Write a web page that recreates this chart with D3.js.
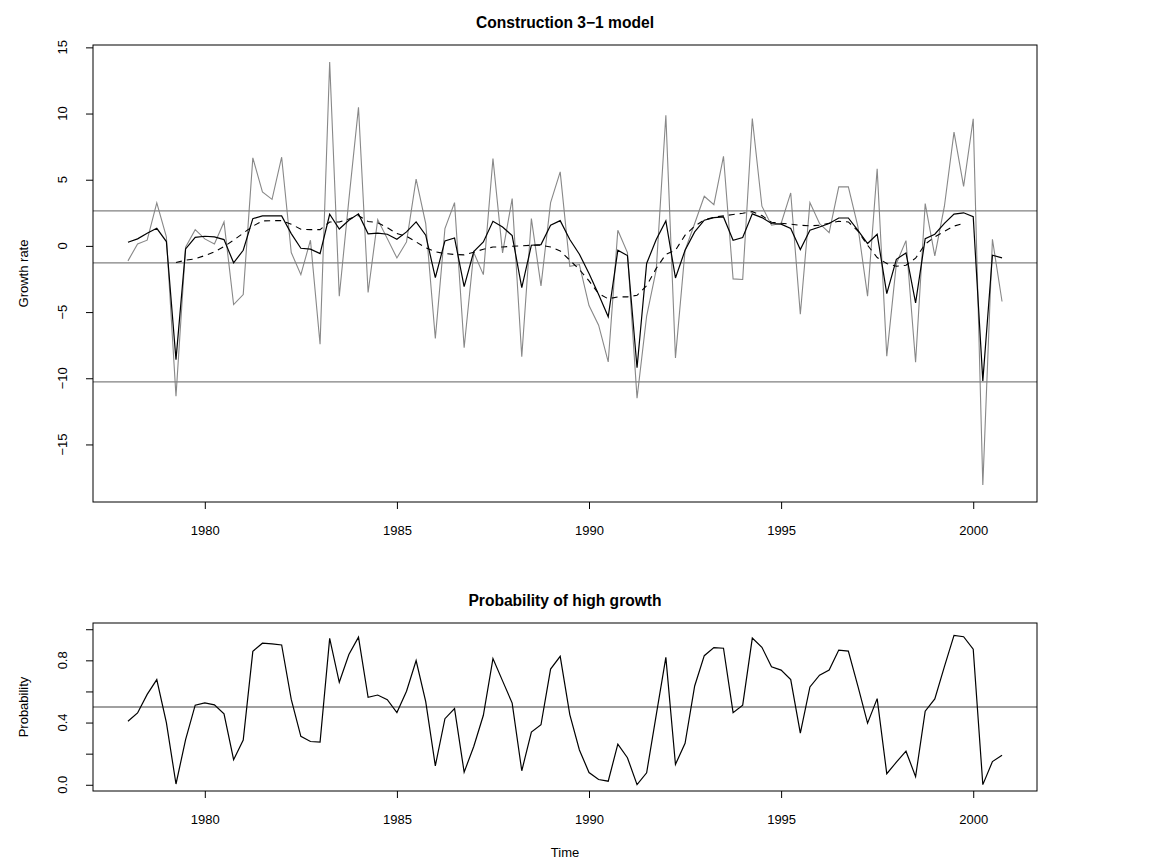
<!DOCTYPE html>
<html><head><meta charset="utf-8">
<script src="https://cdn.jsdelivr.net/npm/d3@7"></script>
<style>
body{margin:0;background:#fff}
text{font-family:"Liberation Sans",Arial,Helvetica,sans-serif;fill:#000}
</style>
</head><body>
<svg id="chart" width="1150" height="868"></svg>
<script>
// ---------------- data ----------------
const startYear = 1978;
const periodsPerYear = 4;

// observed growth rate (grey line)
const actual = [
 -1.13, 0.15, 0.43, 3.25, 0.68, -11.35, -0.1, 1.23, 0.53, 0.15,
 1.81, -4.43, -3.68, 6.65, 4.08, 3.52, 6.70, -0.5, -2.17, 0.43,
 -7.43, 13.9, -3.8, 3.5, 10.47, -3.52, 1.99, 0.55, -0.91, 0.30,
 5.04, 1.69, -7.0, 1.31, 3.27, -7.70, -0.50, -2.17, 6.60, -0.53,
 3.57, -8.38, 2.06, -3.02, 3.27, 5.59, -1.54, -1.41, -4.51, -5.99,
 -8.76, 1.18, -0.5, -11.5, -5.3, -1.8, 9.87, -8.46, -0.33, 1.69,
 3.75, 3.12, 6.77, -2.49, -2.54, 9.62, 3.0, 1.56, 1.69, 4.0,
 -5.16, 3.27, 1.69, 1.0, 4.46, 4.46, 1.43, -3.8, 5.82, -8.33,
 -1.33, 0.40, -8.79, 3.20, -0.76, 3.0, 8.6, 4.5, 9.6, -18.07,
 0.5, -4.2
];

// fitted values (solid black line)
const fitted = [
 0.28, 0.53, 0.96, 1.33, 0.33, -8.59, -0.23, 0.65, 0.73, 0.68,
 0.48, -1.28, -0.33, 2.06, 2.27, 2.27, 2.27, 0.93, -0.18, -0.25,
 -0.58, 2.39, 1.28, 1.94, 2.42, 0.91, 0.97, 0.88, 0.50, 1.06,
 1.81, 0.81, -2.39, 0.38, 0.60, -3.07, -0.43, 0.30, 1.86, 1.43,
 0.78, -3.15, 0.05, 0.10, 1.56, 1.91, 0.48, -0.63, -2.09, -3.68,
 -5.36, -0.33, -0.73, -9.21, -1.33, 0.49, 1.89, -2.42, -0.33, 1.06,
 1.94, 2.14, 2.19, 0.43, 0.63, 2.42, 2.14, 1.69, 1.64, 1.31,
 -0.28, 1.18, 1.43, 1.69, 2.11, 2.11, 1.18, 0.18, 0.88, -3.60,
 -1.01, -0.53, -4.31, 0.55, 0.88, 1.7, 2.4, 2.5, 2.2, -10.2,
 -0.7, -0.9
];

// smoothed series (dashed line); null where undefined
const smooth = [
 null, null, null, null, null, -1.26, -1.08, -0.98, -0.73, -0.45,
 -0.05, 0.43, 0.96, 1.49, 1.89, 1.91, 1.91, 1.64, 1.26, 1.23,
 1.23, 1.81, 1.81, 2.04, 2.29, 1.84, 1.76, 1.38, 0.93, 0.73,
 0.30, -0.13, -0.45, -0.58, -0.65, -0.68, -0.48, -0.25, -0.08, -0.08,
 -0.03, 0.0, 0.05, 0.05, -0.08, -0.38, -1.08, -1.79, -2.64, -3.60,
 -4.0, -3.85, -3.85, -3.73, -3.0, -1.7, -0.63, -0.33, 0.81, 1.49,
 1.96, 2.17, 2.27, 2.37, 2.47, 2.59, 2.29, 1.79, 1.71, 1.64,
 1.56, 1.51, 1.56, 1.71, 1.86, 1.81, 1.11, 0.05, -0.88, -1.33,
 -1.54, -1.46, -0.93, 0.13, 0.68, 1.1, 1.5, 1.7, null, null,
 null, null
];

// probability of high growth regime
const prob = [
 0.408, 0.462, 0.581, 0.676, 0.40, 0.005, 0.29, 0.512, 0.527, 0.514,
 0.456, 0.161, 0.287, 0.858, 0.910, 0.906, 0.899, 0.549, 0.311, 0.278,
 0.274, 0.941, 0.659, 0.837, 0.949, 0.562, 0.577, 0.547, 0.464, 0.601,
 0.798, 0.534, 0.122, 0.425, 0.490, 0.081, 0.246, 0.447, 0.811, 0.668,
 0.525, 0.090, 0.339, 0.386, 0.744, 0.826, 0.451, 0.224, 0.079, 0.034,
 0.023, 0.261, 0.174, 0.001, 0.077, 0.45, 0.819, 0.131, 0.267, 0.635,
 0.830, 0.882, 0.878, 0.464, 0.512, 0.943, 0.884, 0.759, 0.737, 0.676,
 0.332, 0.629, 0.705, 0.737, 0.866, 0.859, 0.632, 0.396, 0.554, 0.071,
 0.145, 0.216, 0.052, 0.473, 0.552, 0.760, 0.960, 0.952, 0.872, 0.001,
 0.149, 0.19
];

const growthLevels = [2.64, -1.28, -10.27];
const probLevels = [0.5];
const xTickValues = [1980, 1985, 1990, 1995, 2000];
const yTicksGrowth = [-15, -10, -5, 0, 5, 10, 15];
const yTicksProb = [0, 0.2, 0.4, 0.6, 0.8, 1.0];
const yLabelsProb = [0, 0.4, 0.8];
const probLimits = [0, 1];
const titleTop = "Construction 3\u22121 model";
const titleBottom = "Probability of high growth";
const yLabelTop = "Growth rate";
const yLabelBottom = "Probability";
const xLabel = "Time";

// ---------------- layout ----------------
const svg = d3.select("#chart");
const P1 = {x0: 93, x1: 1037, y0: 45, y1: 502};
const P2 = {x0: 93, x1: 1037, y0: 623, y1: 791};
const FONT = 13, TFONT = 15.6;
const GREY = "#888888", HGREY = "#808080";

const times = actual.map((_, i) => startYear + i / periodsPerYear);
function pad(ext) { const r = ext[1] - ext[0]; return [ext[0] - 0.04 * r, ext[1] + 0.04 * r]; }
const xDom = pad(d3.extent(times));

function fmtMinus(v) { return (v < 0 ? "\u2212" + Math.abs(v) : String(v)); }

function panel(P, yDom, yTicks, yLabelSet, yFmt, title, ylab, drawFn) {
  const x = d3.scaleLinear().domain(xDom).range([P.x0, P.x1]);
  const y = d3.scaleLinear().domain(yDom).range([P.y1, P.y0]);
  const g = svg.append("g");
  drawFn(g, x, y);
  // box
  g.append("rect").attr("x", P.x0).attr("y", P.y0)
    .attr("width", P.x1 - P.x0).attr("height", P.y1 - P.y0)
    .attr("fill", "none").attr("stroke", "#000").attr("stroke-width", 1);
  // x axis
  const xa = g.append("g").attr("transform", `translate(0,${P.y1})`)
    .call(d3.axisBottom(x).tickValues(xTickValues).tickSize(7).tickSizeOuter(0).tickFormat(d3.format("d")));
  xa.select(".domain").remove();
  xa.selectAll("line").attr("stroke", "#000");
  xa.selectAll("text").attr("font-size", FONT).attr("y", 24).attr("dy", "0.71em").attr("fill", "#000");
  xa.attr("font-family", null).attr("font-size", null);
  // y axis
  const ya = g.append("g").attr("transform", `translate(${P.x0},0)`)
    .call(d3.axisLeft(y).tickValues(yTicks).tickSize(7).tickSizeOuter(0).tickFormat(() => ""));
  ya.select(".domain").remove();
  ya.selectAll("line").attr("stroke", "#000");
  ya.attr("font-family", null);
  yLabelSet.forEach(v => {
    g.append("text").attr("transform", `translate(${P.x0 - 31},${y(v)}) rotate(-90)`)
      .attr("text-anchor", "middle").attr("dy", "0.35em").attr("font-size", FONT).text(yFmt(v));
  });
  // title
  g.append("text").attr("x", (P.x0 + P.x1) / 2).attr("y", P.y0 - 17)
    .attr("text-anchor", "middle").attr("font-size", TFONT).attr("font-weight", "bold").text(title);
  // y label
  g.append("text").attr("transform", `translate(${P.x0 - 70},${(P.y0 + P.y1) / 2}) rotate(-90)`)
    .attr("text-anchor", "middle").attr("dy", "0.35em").attr("font-size", FONT).text(ylab);
  return {x, y};
}

// top panel
const allGrowth = actual.concat(fitted, smooth.filter(v => v != null));
panel(P1, pad(d3.extent(allGrowth)), yTicksGrowth, yTicksGrowth, fmtMinus, titleTop, yLabelTop, (g, x, y) => {
  const line = d3.line().defined(d => d[1] != null).x(d => x(d[0])).y(d => y(d[1]));
  g.append("path").datum(times.map((t, i) => [t, actual[i]]))
    .attr("d", line).attr("fill", "none").attr("stroke", GREY).attr("stroke-width", 1.1);
  growthLevels.forEach(v => {
    g.append("line").attr("x1", x.range()[0]).attr("x2", x.range()[1])
      .attr("y1", y(v)).attr("y2", y(v)).attr("stroke", HGREY).attr("stroke-width", 1.3);
  });
  g.append("path").datum(times.map((t, i) => [t, smooth[i]]))
    .attr("d", line).attr("fill", "none").attr("stroke", "#000").attr("stroke-width", 1.1)
    .attr("stroke-dasharray", "6,5");
  g.append("path").datum(times.map((t, i) => [t, fitted[i]]))
    .attr("d", line).attr("fill", "none").attr("stroke", "#000").attr("stroke-width", 1.2);
});

// bottom panel
panel(P2, pad(probLimits), yTicksProb, yLabelsProb, v => v.toFixed(1), titleBottom, yLabelBottom, (g, x, y) => {
  const line = d3.line().x(d => x(d[0])).y(d => y(d[1]));
  probLevels.forEach(v => {
    g.append("line").attr("x1", x.range()[0]).attr("x2", x.range()[1])
      .attr("y1", y(v)).attr("y2", y(v)).attr("stroke", HGREY).attr("stroke-width", 1.3);
  });
  g.append("path").datum(times.map((t, i) => [t, prob[i]]))
    .attr("d", line).attr("fill", "none").attr("stroke", "#000").attr("stroke-width", 1.2);
});

// x label
svg.append("text").attr("x", (P2.x0 + P2.x1) / 2).attr("y", 857)
  .attr("text-anchor", "middle").attr("font-size", FONT).text(xLabel);
</script>
</body></html>
